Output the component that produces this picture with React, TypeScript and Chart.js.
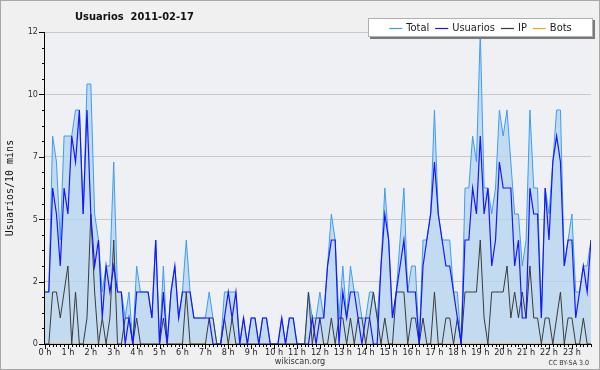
import { useEffect, useRef } from "react";
import { Chart, registerables } from "chart.js";

Chart.register(...registerables);

const hourLabels = ["0 h","1 h","2 h","3 h","4 h","5 h","6 h","7 h","8 h","9 h","10 h","11 h","12 h","13 h","14 h","15 h","16 h","17 h","18 h","19 h","20 h","21 h","22 h","23 h"];

const total = [
  2,2,8,7,4,8,8,8,9,9,5,10,10,5,4,2,3,3,
  7,2,2,1,2,0,3,2,2,2,1,4,0,3,0,2,3,1,
  2,4,2,1,1,1,1,2,1,0,0,2,2,2,2,0,1,0,
  1,1,0,1,1,0,0,0,1,0,1,1,0,0,0,2,1,1,
  2,1,3,5,4,1,3,1,3,2,2,1,1,2,2,1,3,6,
  4,1,2,4,6,2,3,3,0,4,4,5,9,5,4,4,4,2,
  2,0,6,6,8,7,12,6,6,5,6,9,8,9,7,5,5,3,
  4,9,6,6,1,6,5,7,9,9,3,4,5,2,2,3,3,4
];

const usuarios = [
  2,2,6,5,3,6,5,8,7,9,5,9,5,3,4,1,3,2,
  3,2,2,0,1,0,2,2,2,2,1,4,0,2,0,2,3,1,
  2,2,2,1,1,1,1,1,0,0,0,1,2,1,2,0,1,0,
  1,1,0,1,1,0,0,0,1,0,1,1,0,0,0,0,1,0,
  1,1,3,4,4,0,2,1,2,2,1,0,1,1,0,0,3,5,
  4,1,2,3,4,2,2,2,0,3,4,5,7,5,4,3,3,2,
  1,0,4,4,6,5,8,5,6,3,4,7,6,6,6,3,4,1,
  1,6,5,5,1,6,4,7,8,7,3,4,4,1,2,3,2,4
];

const ip = [
  0,0,2,2,1,2,3,0,2,0,0,1,5,2,0,1,0,1,
  4,0,0,1,1,0,1,0,0,0,0,0,0,1,0,0,0,0,
  0,2,0,0,0,0,0,1,1,0,0,1,0,1,0,0,0,0,
  0,0,0,0,0,0,0,0,0,0,0,0,0,0,0,2,0,1,
  1,0,0,1,0,1,1,0,1,0,1,1,0,1,2,1,0,1,
  0,0,2,2,2,0,1,1,0,1,0,0,2,0,0,1,1,0,
  1,0,2,2,2,2,4,1,0,2,2,2,2,3,1,2,1,2,
  1,3,1,1,0,1,1,0,1,2,0,1,1,0,0,1,0,0
];

const bots = [
  0,0,0,0,0,0,0,0,0,0,0,0,0,0,0,0,0,0,
  0,0,0,0,0,0,0,0,0,0,0,0,0,0,0,0,0,0,
  0,0,0,0,0,0,0,0,0,0,0,0,0,0,0,0,0,0,
  0,0,0,0,0,0,0,0,0,0,0,0,0,0,0,0,0,0,
  0,0,0,0,0,0,0,0,0,0,0,0,0,0,0,0,0,0,
  0,0,0,0,0,0,0,0,0,0,0,0,0,0,0,0,0,0,
  0,0,0,0,0,0,0,0,0,0,0,0,0,0,0,0,0,0,
  0,0,0,0,0,0,0,0,0,0,0,0,0,0,0,0,0,0
];

const yTicks = [0, 2.4, 4.8, 7.2, 9.6, 12];

const seriesNames = ["Total", "Usuarios", "IP", "Bots"];
const seriesColors = ["#3d9df5", "#1616ff", "#3a3a3a", "#ffa31a"];

const chartTitle = "Usuarios  2011-02-17";
const yTitle = "Usuarios/10 mins";
const footer = "wikiscan.org";
const license = "CC BY-SA 3.0";

const FONT = "'DejaVu Sans Condensed', 'DejaVu Sans', sans-serif";

const toXY = (arr: number[]) => arr.map((v, i) => ({ x: i, y: v }));

const decorPlugin = {
  id: "decor",
  beforeDraw(chart: any) {
    const { ctx, chartArea, width, height } = chart;
    ctx.save();
    ctx.fillStyle = "#f0f0f0";
    ctx.fillRect(0, 0, width, height);
    ctx.fillStyle = "#eef0f3";
    ctx.fillRect(chartArea.left, chartArea.top, chartArea.right - chartArea.left, chartArea.bottom - chartArea.top);
    ctx.restore();
  },
  afterDatasetsDraw(chart: any) {
    const { ctx, chartArea, scales } = chart;
    const xs = scales.x;
    const ys = scales.y;
    ctx.save();
    ctx.strokeStyle = "#000";
    ctx.lineWidth = 1;
    ctx.beginPath();
    ctx.moveTo(chartArea.left - 0.5, chartArea.top);
    ctx.lineTo(chartArea.left - 0.5, chartArea.bottom + 0.5);
    ctx.lineTo(chartArea.right, chartArea.bottom + 0.5);
    for (let i = 0; i < total.length; i++) {
      const px = Math.round(xs.getPixelForValue(i)) + 0.5;
      const len = i % 6 === 0 ? 5 : 3;
      ctx.moveTo(px, chartArea.bottom);
      ctx.lineTo(px, chartArea.bottom + len);
    }
    for (let k = 0; k <= 20; k++) {
      const v = k * 0.6;
      const py = Math.round(ys.getPixelForValue(v)) + 0.5;
      const len = k % 4 === 0 ? 6 : 3;
      ctx.moveTo(chartArea.left - len, py);
      ctx.lineTo(chartArea.left, py);
    }
    ctx.stroke();
    ctx.restore();
  },
  afterDraw(chart: any) {
    const { ctx, width, height } = chart;
    ctx.save();
    ctx.strokeStyle = "#a8a8a8";
    ctx.lineWidth = 1;
    ctx.strokeRect(0.5, 0.5, width - 1, height - 1);

    ctx.fillStyle = "#111";
    ctx.font = "bold 11px " + FONT;
    ctx.textBaseline = "middle";
    ctx.textAlign = "left";
    ctx.fillText(chartTitle, 75, 17);

    const bx = 368, by = 18, bw = 225, bh = 19;
    ctx.fillStyle = "#7a7a7a";
    ctx.fillRect(bx + 2, by + 2, bw, bh);
    ctx.fillStyle = "#ffffff";
    ctx.fillRect(bx, by, bw, bh);
    ctx.strokeStyle = "#b0b0b0";
    ctx.strokeRect(bx + 0.5, by + 0.5, bw - 1, bh - 1);
    ctx.font = "11px " + FONT;
    const sample = 13, gapA = 4, gapB = 6;
    let w = 0;
    seriesNames.forEach((n, i) => {
      w += sample + gapA + ctx.measureText(n).width + (i < seriesNames.length - 1 ? gapB : 0);
    });
    let cx = bx + (bw - w) / 2;
    const cy = by + bh / 2;
    seriesNames.forEach((n, i) => {
      ctx.strokeStyle = seriesColors[i];
      ctx.lineWidth = 1.2;
      ctx.beginPath();
      ctx.moveTo(cx, Math.round(cy) + 0.5);
      ctx.lineTo(cx + sample, Math.round(cy) + 0.5);
      ctx.stroke();
      cx += sample + gapA;
      ctx.fillStyle = "#222";
      ctx.fillText(n, cx, cy + 0.5);
      cx += ctx.measureText(n).width + gapB;
    });

    ctx.fillStyle = "#333";
    ctx.font = "9px " + FONT;
    ctx.textAlign = "center";
    ctx.fillText(footer, 300, 362);
    ctx.font = "7px " + FONT;
    ctx.textAlign = "right";
    ctx.fillText(license, 589, 363);
    ctx.restore();
  },
};

export default function App() {
  const ref = useRef<HTMLCanvasElement | null>(null);
  useEffect(() => {
    document.body.style.margin = "0";
    if (!ref.current) return;
    const chart = new Chart(ref.current, {
      type: "line",
      data: {
        datasets: [
          {
            label: seriesNames[0],
            data: toXY(total),
            borderColor: seriesColors[0],
            backgroundColor: "rgba(180, 212, 240, 0.75)",
            fill: "origin",
            borderWidth: 1,
            pointRadius: 0,
            tension: 0,
            order: 4,
          },
          {
            label: seriesNames[3],
            data: toXY(bots),
            borderColor: seriesColors[3],
            borderWidth: 1,
            pointRadius: 0,
            fill: false,
            order: 3,
          },
          {
            label: seriesNames[2],
            data: toXY(ip),
            borderColor: seriesColors[2],
            borderWidth: 1,
            pointRadius: 0,
            fill: false,
            order: 2,
          },
          {
            label: seriesNames[1],
            data: toXY(usuarios),
            borderColor: seriesColors[1],
            borderWidth: 1.2,
            pointRadius: 0,
            fill: false,
            order: 1,
          },
        ],
      },
      options: {
        animation: false,
        responsive: false,
        devicePixelRatio: 1,
        layout: { padding: { left: 0, top: 32, right: 9, bottom: 0 } },
        plugins: {
          legend: { display: false },
          title: { display: false },
          tooltip: { enabled: false },
        },
        scales: {
          x: {
            type: "linear",
            min: 0,
            max: total.length - 1,
            afterBuildTicks: (scale: any) => {
              scale.ticks = hourLabels.map((_, h) => ({ value: h * 6 }));
            },
            afterFit: (scale: any) => {
              scale.height = 26;
            },
            grid: { display: false, drawTicks: false },
            border: { display: false },
            ticks: {
              autoSkip: false,
              maxRotation: 0,
              padding: 3,
              color: "#222",
              font: { family: FONT, size: 9 },
              callback: (v: any) => hourLabels[Math.round(v / 6)],
            },
          },
          y: {
            type: "linear",
            min: 0,
            max: 12,
            afterBuildTicks: (scale: any) => {
              scale.ticks = yTicks.map((v) => ({ value: v }));
            },
            afterFit: (scale: any) => {
              scale.width = 45;
            },
            grid: {
              drawTicks: false,
              color: (c: any) => (c.tick && c.tick.value === 0 ? "rgba(0,0,0,0)" : "#c8c8c8"),
              lineWidth: 1,
            },
            border: { display: false },
            title: {
              display: true,
              text: yTitle,
              color: "#111",
              font: { family: "'DejaVu Sans Mono', monospace", size: 10 },
              padding: { top: 4, bottom: 0 },
            },
            ticks: {
              padding: 7,
              color: "#333",
              font: { family: FONT, size: 9 },
              callback: (v: any) => String(Math.round(v)),
            },
          },
        },
      },
      plugins: [decorPlugin],
    });
    return () => chart.destroy();
  }, []);
  return <canvas ref={ref} width={600} height={370} style={{ display: "block", width: 600, height: 370 }} />;
}
